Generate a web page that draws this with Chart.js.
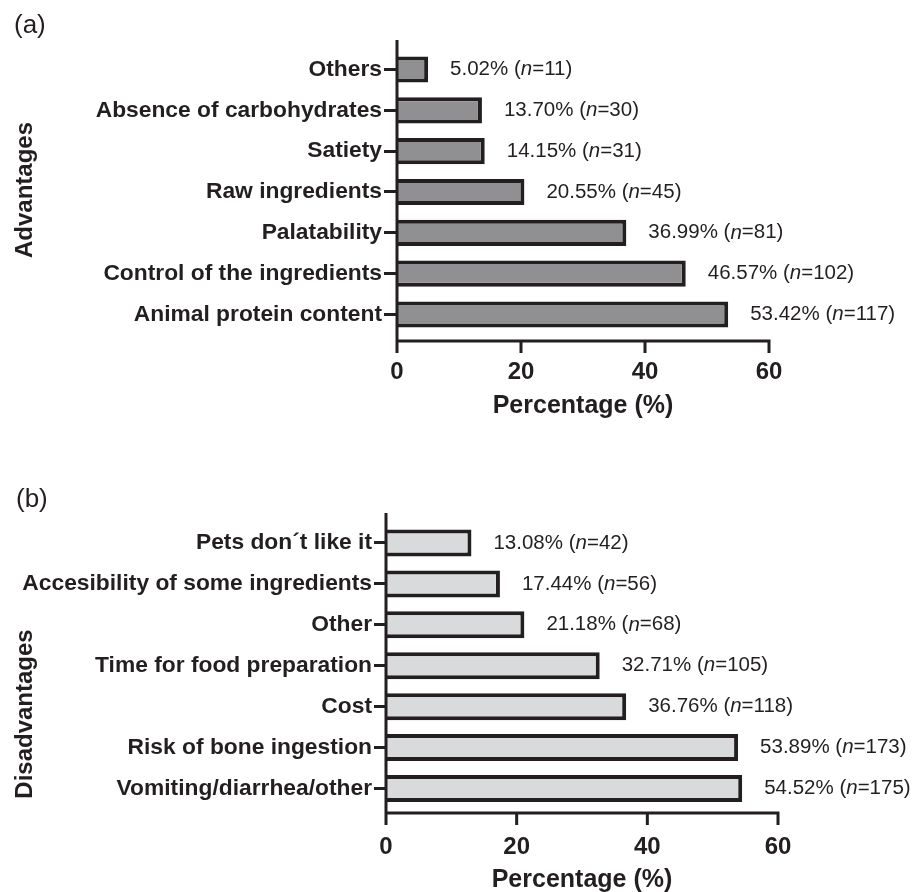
<!DOCTYPE html>
<html>
<head>
<meta charset="utf-8">
<script src="https://cdn.jsdelivr.net/npm/chart.js@4.4.1/dist/chart.umd.min.js"></script>
<style>
  body { margin: 0; background: #fff; }
  .panel { position: relative; width: 921px; height: 446px; }
</style>
</head>
<body>
<div class="panel"><canvas id="chartA"></canvas></div>
<div class="panel"><canvas id="chartB"></canvas></div>
<script>
// ---- datos del panel (a) ----
const advLabels = ["Others", "Absence of carbohydrates", "Satiety", "Raw ingredients",
  "Palatability", "Control of the ingredients", "Animal protein content"];
const advValues = [5.02, 13.70, 14.15, 20.55, 36.99, 46.57, 53.42];
const advCounts = [11, 30, 31, 45, 81, 102, 117];

// ---- datos del panel (b) ----
const disLabels = ["Pets don\u00b4t like it", "Accesibility of some ingredients", "Other",
  "Time for food preparation", "Cost", "Risk of bone ingestion", "Vomiting/diarrhea/other"];
const disValues = [13.08, 17.44, 21.18, 32.71, 36.76, 53.89, 54.52];
const disCounts = [42, 56, 68, 105, 118, 173, 175];

const xTicks = [0, 20, 40, 60];

const ink = "#231f20";
const fontFam = "'Liberation Sans', Arial, Helvetica, sans-serif";
Chart.defaults.font.family = fontFam;
Chart.defaults.color = ink;

// ejes, marcas, etiquetas de valor y titulos
const panelPlugin = {
  id: "panelDecor",
  afterDraw(chart, args, o) {
    const ctx = chart.ctx;
    const xs = chart.scales.x;
    const x0 = xs.getPixelForValue(0);
    const x1 = xs.getPixelForValue(60);
    ctx.save();
    ctx.strokeStyle = ink;
    ctx.lineWidth = 3;
    ctx.lineCap = "butt";
    ctx.beginPath();
    ctx.moveTo(x0, o.axisTop);
    ctx.lineTo(x0, o.axisY + 1.5);
    ctx.moveTo(x0 - 1.5, o.axisY);
    ctx.lineTo(x1 + 1.5, o.axisY);
    xTicks.forEach(t => {
      const px = xs.getPixelForValue(t);
      ctx.moveTo(px, o.axisY);
      ctx.lineTo(px, o.axisY + 12);
    });
    ctx.stroke();

    // etiquetas "xx.xx% (n=..)"
    const meta = chart.getDatasetMeta(0);
    ctx.fillStyle = ink;
    ctx.textBaseline = "middle";
    ctx.textAlign = "left";
    meta.data.forEach((bar, i) => {
      let x = bar.x + 22;
      const y = bar.y;
      const parts = [
        [o.values[i].toFixed(2) + "% (", "normal"],
        ["n", "italic"],
        ["=" + o.counts[i] + ")", "normal"]
      ];
      parts.forEach(([txt, st]) => {
        ctx.font = st + " 20.5px " + fontFam;
        ctx.fillText(txt, x, y);
        x += ctx.measureText(txt).width;
      });
    });

    // titulo eje x
    ctx.font = "bold 25px " + fontFam;
    ctx.textAlign = "center";
    ctx.fillText("Percentage (%)", (x0 + x1) / 2, o.xTitleY);

    // titulo eje y (rotado)
    ctx.save();
    ctx.translate(25, o.yTitleY);
    ctx.rotate(-Math.PI / 2);
    ctx.font = "bold 24px " + fontFam;
    ctx.fillText(o.yTitle, 0, 0);
    ctx.restore();

    // letra del panel
    ctx.font = "26px " + fontFam;
    ctx.textAlign = "left";
    ctx.fillText(o.letter, o.letterX, o.letterY);
    ctx.restore();
  }
};

const makePanel = (canvas, labels, values, counts, cfg) => {
  return new Chart(canvas, {
    type: "bar",
    data: {
      labels: labels,
      datasets: [{
        data: values,
        backgroundColor: cfg.fill,
        borderColor: ink,
        borderWidth: 4,
        barPercentage: cfg.barPct,
        categoryPercentage: 1
      }]
    },
    options: {
      indexAxis: "y",
      responsive: true,
      maintainAspectRatio: false,
      animation: false,
      layout: { padding: { left: 0, right: 921 - cfg.right, top: cfg.top, bottom: 0 } },
      scales: {
        y: {
          type: "category",
          grid: { offset: false, drawOnChartArea: false, tickLength: cfg.tickLen, color: ink, lineWidth: 3 },
          border: { display: false },
          ticks: { padding: 2, color: ink, font: { size: 22.8, weight: "bold" } },
          afterFit: (scale) => { scale.width = cfg.left; }
        },
        x: {
          min: 0,
          max: 60,
          grid: { display: false, drawTicks: false },
          border: { display: false },
          ticks: { stepSize: 20, padding: cfg.tickPad, color: ink, font: { size: 24, weight: "bold" } },
          afterFit: (scale) => { scale.height = 446 - cfg.bottom; }
        }
      },
      plugins: {
        legend: { display: false },
        tooltip: { enabled: false },
        panelDecor: {
          axisTop: cfg.axisTop,
          axisY: cfg.axisY,
          values: values,
          counts: counts,
          xTitleY: cfg.xTitleY,
          yTitle: cfg.yTitle,
          yTitleY: cfg.yTitleY,
          letter: cfg.letter,
          letterX: cfg.letterX,
          letterY: cfg.letterY
        }
      }
    },
    plugins: [panelPlugin]
  });
};

makePanel(document.querySelector("#chartA"), advLabels, advValues, advCounts, {
  fill: "#909092", barPct: 0.64, left: 397, right: 769, top: 49.1, bottom: 334.9,
  tickLen: 13, tickPad: 22.7, axisTop: 40, axisY: 341, xTitleY: 406,
  yTitle: "Advantages", yTitleY: 190, letter: "(a)", letterX: 14, letterY: 26
});

makePanel(document.querySelector("#chartB"), disLabels, disValues, disCounts, {
  fill: "#d9dadb", barPct: 0.66, left: 386, right: 778, top: 76.5, bottom: 363,
  tickLen: 12, tickPad: 23.6, axisTop: 67, axisY: 367, xTitleY: 434,
  yTitle: "Disadvantages", yTitleY: 268, letter: "(b)", letterX: 16, letterY: 54
});
</script>
</body>
</html>
